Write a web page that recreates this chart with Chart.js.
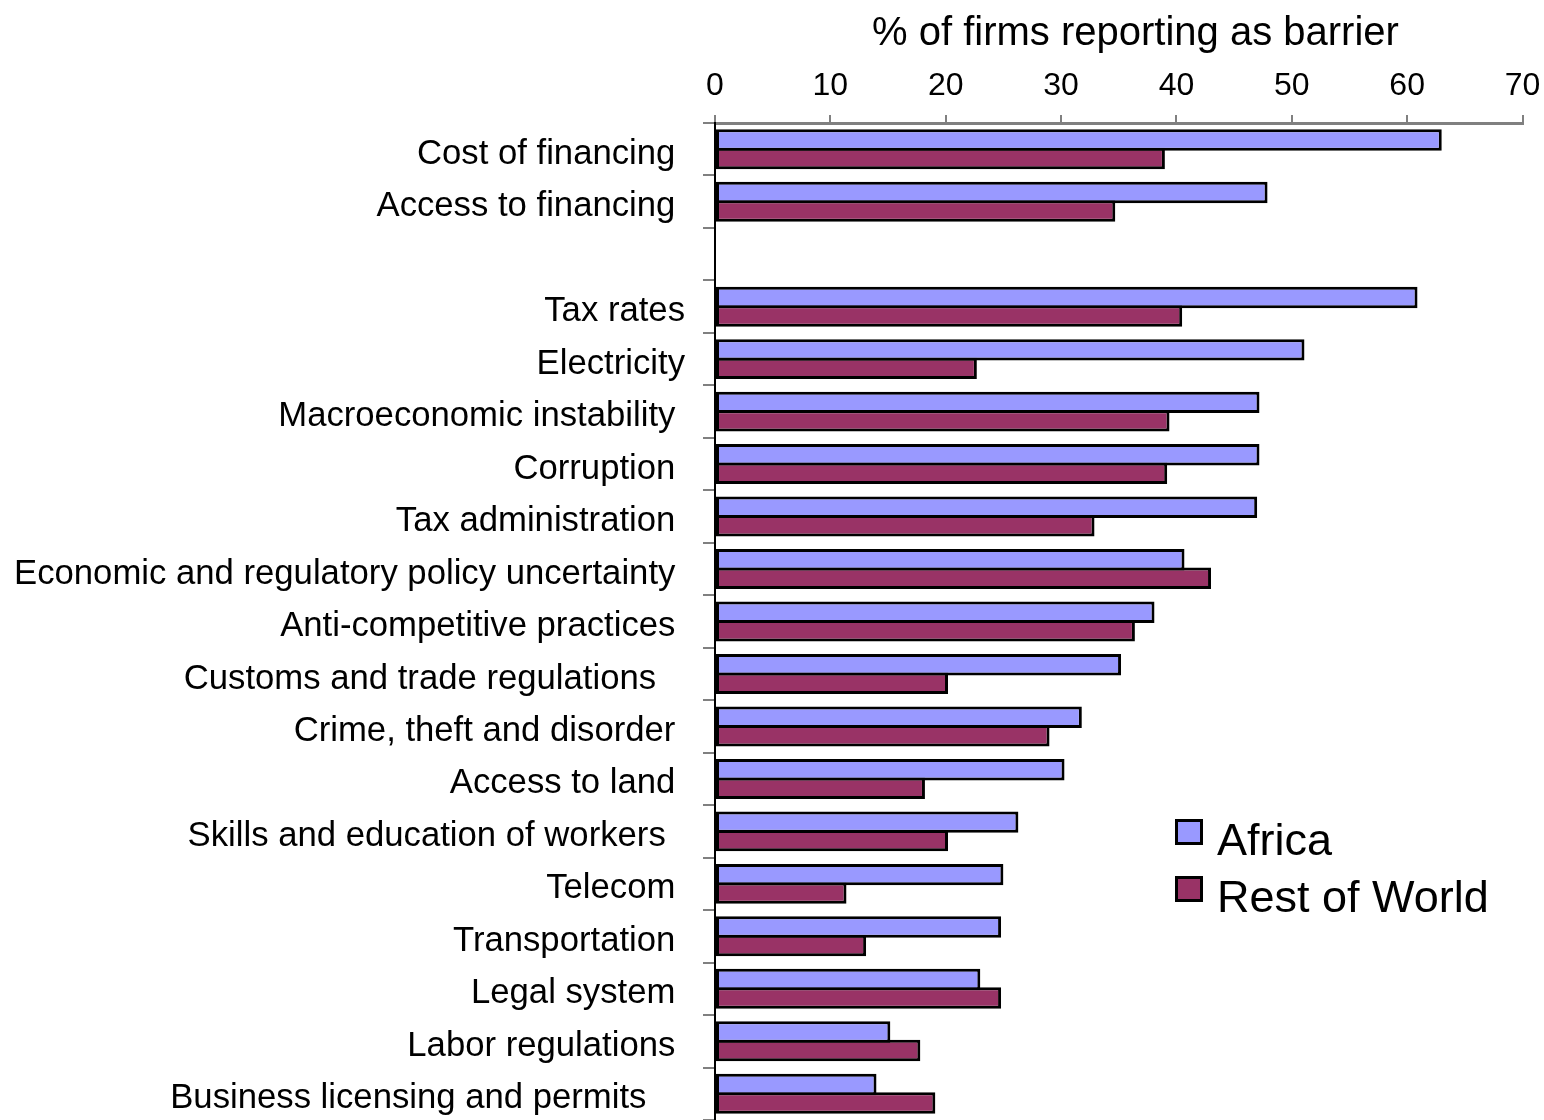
<!DOCTYPE html>
<html>
<head>
<meta charset="utf-8">
<script src="https://cdn.jsdelivr.net/npm/chart.js@4.4.0/dist/chart.umd.min.js"></script>
<style>
  html, body { margin: 0; padding: 0; background: #ffffff; }
  #wrap { width: 1544px; height: 1120px; }
</style>
</head>
<body>
<div id="wrap"><canvas id="chart" width="1544" height="1120"></canvas></div>
<script>
// Obstacles reported by firms (% of firms reporting as barrier)
const categories = [
  'Cost of financing ',
  'Access to financing ',
  '',
  'Tax rates',
  'Electricity',
  'Macroeconomic instability ',
  'Corruption ',
  'Tax administration ',
  'Economic and regulatory policy uncertainty ',
  'Anti-competitive practices ',
  'Customs and trade regulations   ',
  'Crime, theft and disorder ',
  'Access to land ',
  'Skills and education of workers  ',
  'Telecom ',
  'Transportation ',
  'Legal system ',
  'Labor regulations ',
  'Business licensing and permits    '
];

const africa = [63.0, 47.9, null, 60.9, 51.1, 47.2, 47.2, 47.0, 40.7, 38.1, 35.2, 31.8, 30.3, 26.3, 25.0, 24.8, 23.0, 15.2, 14.0];
const restOfWorld = [39.0, 34.7, null, 40.5, 22.7, 39.4, 39.2, 32.9, 43.0, 36.4, 20.2, 29.0, 18.2, 20.2, 11.4, 13.1, 24.8, 17.8, 19.1];

const seriesNames = ['Africa', 'Rest of World'];
const axisTitle = '   % of firms reporting as barrier';
const tickValues = [0, 10, 20, 30, 40, 50, 60, 70];

const FONT = '"Liberation Sans", Arial, Helvetica, sans-serif';

// Legend drawn inside the plot area, lower right
const insideLegend = {
  id: 'insideLegend',
  afterDraw(chart) {
    const ctx = chart.ctx;
    const boxX = 1175, boxSize = 28, textX = 1217, firstBaseline = 855, rowGap = 57;
    ctx.save();
    ctx.font = '45px ' + FONT;
    ctx.textAlign = 'left';
    ctx.textBaseline = 'alphabetic';
    chart.data.datasets.forEach((ds, i) => {
      const base = firstBaseline + i * rowGap;
      const top = base - 36;
      ctx.fillStyle = ds.backgroundColor;
      ctx.fillRect(boxX, top, boxSize, boxSize - 2);
      ctx.lineWidth = 3;
      ctx.strokeStyle = '#000000';
      ctx.strokeRect(boxX + 1.5, top + 1.5, boxSize - 3, boxSize - 5);
      ctx.fillStyle = '#000000';
      ctx.fillText(ds.label, textX, base);
    });
    ctx.restore();
  }
};

new Chart(document.getElementById('chart'), {
  type: 'bar',
  data: {
    labels: categories,
    datasets: [
      {
        label: seriesNames[0],
        data: africa,
        backgroundColor: '#9999FF',
        borderColor: '#000000',
        borderWidth: 3,
        borderSkipped: false,
        categoryPercentage: 0.705,
        barPercentage: 1.16
      },
      {
        label: seriesNames[1],
        data: restOfWorld,
        backgroundColor: '#993366',
        borderColor: '#000000',
        borderWidth: 3,
        borderSkipped: false,
        categoryPercentage: 0.705,
        barPercentage: 1.16
      }
    ]
  },
  options: {
    indexAxis: 'y',
    responsive: false,
    animation: false,
    devicePixelRatio: 1,
    layout: { padding: { left: 0, right: 21.5, top: 0, bottom: 0 } },
    plugins: {
      legend: { display: false },
      tooltip: { enabled: false }
    },
    scales: {
      x: {
        position: 'top',
        min: 0,
        max: 70,
        afterBuildTicks(scale) {
          scale.ticks = tickValues.map(v => ({ value: v }));
        },
        afterFit(scale) {
          scale.height = 123;
          scale.paddingLeft = 0;
          scale.paddingRight = 0;
        },
        ticks: {
          color: '#000000',
          font: { family: FONT, size: 32 },
          padding: 10,
          maxRotation: 0
        },
        grid: {
          drawOnChartArea: false,
          drawTicks: true,
          tickLength: 8,
          color: '#808080',
          lineWidth: 2
        },
        border: { color: '#808080', width: 3 },
        title: {
          display: true,
          text: axisTitle,
          color: '#000000',
          font: { family: FONT, size: 40 },
          padding: { top: 10, bottom: 0 }
        }
      },
      y: {
        afterFit(scale) {
          scale.width = 715;
          scale.paddingTop = 0;
          scale.paddingBottom = 0;
        },
        ticks: {
          color: '#000000',
          font: { family: FONT, size: 34.7 },
          padding: 18,
          labelOffset: 5,
          autoSkip: false
        },
        grid: {
          drawOnChartArea: false,
          drawTicks: true,
          tickLength: 12,
          color: '#808080',
          lineWidth: 2,
          offset: true
        },
        border: { color: '#000000', width: 2 }
      }
    }
  },
  plugins: [insideLegend]
});
</script>
</body>
</html>
